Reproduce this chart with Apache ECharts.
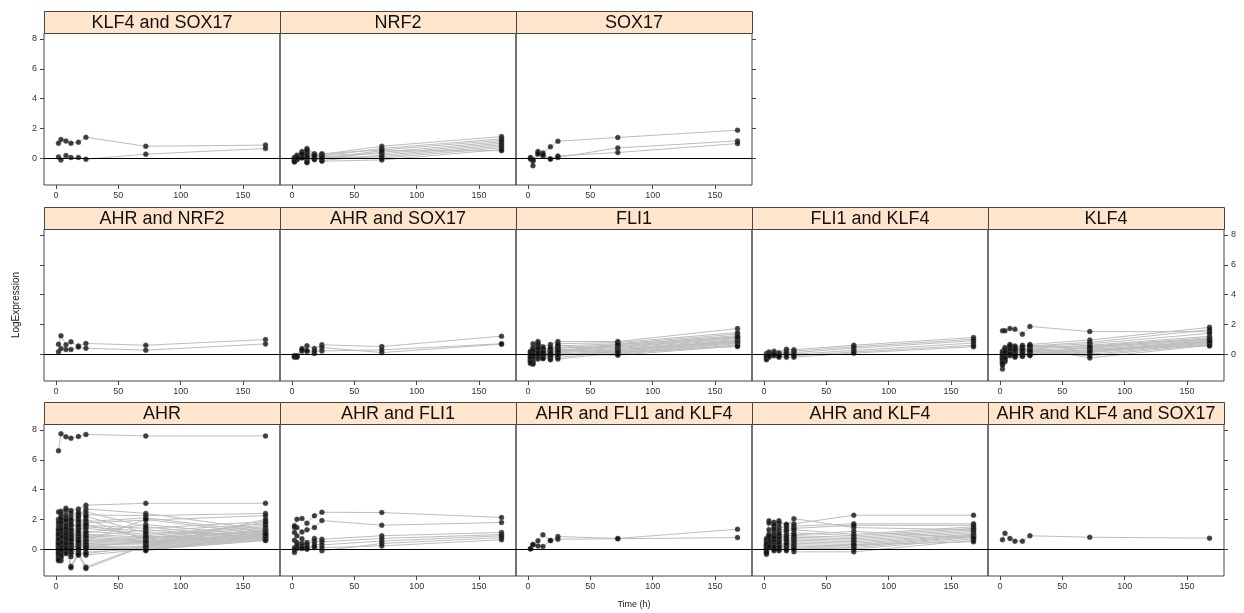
<!DOCTYPE html>
<html>
<head>
<meta charset="utf-8">
<script src="https://cdn.jsdelivr.net/npm/echarts@6/dist/echarts.min.js"></script>
<style>
  html, body { margin: 0; padding: 0; background: #fff; }
  #main { width: 1244px; height: 613px; }
</style>
</head>
<body>
<div id="main"></div>
<script>
// sampling times (h)
const times = [2, 4, 8, 12, 18, 24, 72, 168]
const xTicks = [0, 50, 100, 150]
const yTicks = [0, 2, 4, 6, 8]

// one row per profile, values at each time point
const klf4Sox17 = [
  [1.00, 1.25, 1.15, 1.00, 1.07, 1.40, 0.80, 0.88],
  [0.08, -0.12, 0.18, 0.05, 0.05, -0.07, 0.27, 0.65]
]
const nrf2 = [
  [0.05, 0.20, 0.45, 0.65, 0.30, 0.25, 0.80, 1.45],
  [-0.10, 0.15, 0.30, 0.20, 0.25, 0.15, 0.65, 1.30],
  [-0.20, 0.00, 0.10, 0.45, 0.10, 0.30, 0.55, 1.20],
  [0.00, -0.05, 0.25, -0.10, 0.00, -0.05, 0.40, 1.10],
  [-0.15, 0.10, 0.35, 0.05, 0.20, 0.20, 0.30, 1.00],
  [-0.05, -0.10, 0.05, 0.30, -0.05, -0.15, 0.20, 0.90],
  [-0.25, 0.05, 0.15, -0.25, 0.15, 0.05, 0.10, 0.80],
  [0.02, 0.12, 0.22, 0.10, -0.10, 0.10, 0.00, 0.70],
  [-0.12, -0.08, 0.02, -0.30, 0.05, -0.20, -0.12, 0.58],
  [-0.22, 0.02, 0.30, 0.55, 0.18, 0.00, 0.50, 0.50]
]
const sox17 = [
  [0.00, -0.20, 0.45, 0.35, 0.76, 1.14, 1.39, 1.88],
  [0.05, -0.50, 0.27, 0.15, -0.05, 0.05, 0.69, 1.16],
  [-0.05, -0.10, 0.33, 0.25, -0.05, 0.15, 0.38, 0.98]
]
const ahrNrf2 = [
  [0.67, 1.23, 0.63, 0.83, 0.55, 0.72, 0.60, 0.98],
  [0.16, 0.38, 0.31, 0.31, 0.48, 0.40, 0.27, 0.69]
]
const ahrSox17 = [
  [-0.10, -0.15, 0.38, 0.56, 0.38, 0.63, 0.51, 1.21],
  [-0.20, -0.10, 0.20, 0.18, 0.05, 0.45, 0.11, 0.67],
  [-0.15, -0.20, 0.30, 0.25, 0.20, 0.22, 0.29, 0.70]
]
const fli1 = [
  [0.20, 0.70, 0.85, 0.50, 0.65, 0.85, 0.85, 1.72],
  [0.12, 0.45, 0.75, 0.40, 0.35, 0.70, 0.78, 1.45],
  [-0.05, 0.35, 0.55, 0.30, 0.25, 0.55, 0.70, 1.35],
  [-0.15, 0.30, 0.60, 0.22, 0.15, 0.45, 0.62, 1.25],
  [-0.22, 0.15, 0.40, 0.15, 0.05, 0.40, 0.55, 1.18],
  [-0.35, 0.05, 0.30, 0.10, -0.05, 0.30, 0.50, 1.10],
  [-0.42, -0.05, 0.28, 0.02, -0.12, 0.22, 0.45, 1.05],
  [-0.50, -0.12, 0.18, -0.05, -0.20, 0.15, 0.38, 0.98],
  [-0.62, -0.25, 0.10, -0.12, -0.30, 0.08, 0.32, 0.92],
  [-0.28, -0.35, 0.02, -0.22, -0.38, -0.02, 0.28, 0.88],
  [-0.10, -0.48, -0.05, -0.30, 0.02, -0.10, 0.22, 0.84],
  [0.05, -0.60, -0.18, 0.25, 0.12, -0.22, 0.18, 0.80],
  [-0.38, -0.67, -0.33, 0.08, 0.22, -0.33, 0.10, 0.76],
  [-0.02, 0.18, 0.65, -0.28, 0.32, 0.62, 0.05, 0.70],
  [-0.45, 0.08, 0.22, 0.38, -0.15, 0.35, 0.00, 0.62],
  [0.15, -0.18, 0.12, -0.02, 0.45, 0.02, -0.07, 0.55],
  [-0.55, 0.25, 0.50, 0.18, -0.08, 0.18, 0.66, 1.15],
  [-0.20, -0.02, 0.38, 0.12, 0.08, -0.05, 0.14, 0.51]
]
const fli1Klf4 = [
  [0.05, 0.15, 0.20, 0.10, 0.33, 0.30, 0.60, 1.12],
  [-0.10, 0.05, 0.10, 0.00, 0.20, 0.20, 0.50, 1.00],
  [-0.20, -0.05, 0.05, -0.05, 0.10, 0.10, 0.40, 0.90],
  [-0.30, -0.10, -0.05, -0.10, 0.05, 0.00, 0.25, 0.75],
  [-0.38, -0.20, -0.10, -0.20, -0.05, -0.10, 0.15, 0.60],
  [-0.15, -0.15, 0.00, -0.15, -0.20, -0.20, 0.07, 0.50]
]
const klf4 = [
  [1.57, 1.57, 1.72, 1.68, 1.34, 1.86, 1.52, 1.50],
  [0.20, 0.45, 0.65, 0.55, 0.45, 0.65, 0.95, 1.80],
  [0.10, 0.30, 0.55, 0.40, 0.60, 0.55, 0.80, 1.65],
  [-0.05, 0.20, 0.50, 0.35, 0.30, 0.50, 0.70, 1.40],
  [-0.15, 0.10, 0.40, 0.50, 0.20, 0.40, 0.60, 1.20],
  [-0.25, 0.05, 0.35, 0.25, 0.10, 0.35, 0.55, 1.10],
  [-0.35, -0.05, 0.30, 0.15, 0.25, 0.25, 0.45, 1.05],
  [-0.45, -0.15, 0.20, 0.05, -0.05, 0.15, 0.40, 0.95],
  [-0.55, -0.20, 0.10, -0.05, 0.00, 0.05, 0.30, 0.90],
  [-0.65, -0.30, 0.00, -0.10, -0.10, 0.00, 0.25, 0.85],
  [-1.00, -0.50, -0.10, -0.20, -0.15, -0.05, 0.15, 0.80],
  [-0.75, -0.40, 0.15, 0.10, 0.35, 0.30, 0.10, 0.75],
  [0.05, -0.10, 0.45, 0.30, 0.15, 0.20, 0.00, 0.70],
  [-0.20, 0.35, 0.25, 0.45, 0.40, 0.10, -0.10, 0.65],
  [-0.40, 0.00, 0.05, 0.00, -0.05, 0.45, -0.25, 0.60],
  [-0.10, 0.25, 0.60, 0.20, 0.05, 0.60, 0.35, 0.55],
  [-0.30, -0.25, 0.35, 0.30, 0.50, -0.10, 0.50, 1.00],
  [-0.60, 0.15, 0.55, -0.15, 0.30, 0.25, 0.20, 0.85]
]
const ahr = [
  [6.60, 7.74, 7.54, 7.45, 7.56, 7.70, 7.60, 7.60],
  [1.20, 2.55, 2.75, 2.60, 2.70, 2.95, 3.08, 3.08],
  [2.00, 2.40, 2.10, 2.45, 2.20, 2.70, 2.40, 1.30],
  [1.60, 2.20, 1.80, 2.20, 2.50, 2.30, 2.25, 2.40],
  [0.90, 1.90, 2.60, 1.90, 2.00, 1.85, 2.10, 1.15],
  [1.40, 1.70, 1.50, 2.00, 1.75, 1.75, 1.95, 2.25],
  [0.40, 1.30, 2.00, 1.60, 1.50, 1.60, 1.40, 1.85],
  [1.10, 1.20, 1.00, 1.40, 1.90, 1.50, 1.20, 1.70],
  [0.70, 1.50, 1.30, 1.20, 1.30, 1.40, 1.00, 1.60],
  [-0.20, 1.00, 0.80, 1.00, 1.10, 1.20, 0.90, 1.50],
  [0.20, 0.80, 1.60, 0.80, 0.90, 1.00, 0.80, 1.40],
  [0.50, 0.60, 0.60, 0.60, 0.70, 0.90, 0.70, 1.30],
  [-0.50, 0.40, 0.40, 0.50, 2.20, 0.80, 0.60, 1.25],
  [0.00, 0.20, 1.20, 0.30, 0.50, 0.70, 0.55, 1.20],
  [-0.40, 0.10, 0.20, 0.20, 0.30, 0.60, 0.50, 1.10],
  [0.30, -0.10, 0.90, 0.00, 0.20, 0.50, 0.45, 1.05],
  [-0.78, -0.30, 0.00, -0.20, 0.10, 0.40, 0.40, 1.00],
  [0.80, -0.60, -0.20, 0.40, 0.00, 0.30, 0.35, 0.95],
  [-0.60, -0.78, 0.50, -1.15, -0.20, -1.20, 0.30, 0.90],
  [0.10, 0.00, 0.30, -1.25, -0.40, -1.30, 0.25, 0.85],
  [1.80, 0.50, 0.70, 0.70, 0.60, 0.20, 0.20, 0.80],
  [-0.10, 0.30, 0.10, 0.10, 0.40, 0.10, 0.15, 0.75],
  [0.60, 0.90, 1.40, 0.90, 0.80, 0.00, 0.10, 0.70],
  [-0.30, -0.20, -0.10, -0.30, -0.30, -0.20, 0.05, 0.65],
  [0.95, 1.10, 0.45, 1.10, 1.00, -0.40, 0.00, 0.60],
  [0.25, 0.70, 1.10, 0.25, 1.40, 0.25, -0.05, 0.58],
  [-0.70, -0.50, 0.25, 0.55, -0.10, 0.05, -0.11, 0.95],
  [1.30, 0.55, 0.15, 1.30, 0.25, 1.65, 0.75, 1.15],
  [0.45, 1.35, 0.65, 0.35, 1.60, 1.10, 1.65, 0.90],
  [0.15, -0.40, 0.95, 0.15, 0.15, 0.85, 1.30, 0.75],
  [-0.25, 0.25, -0.30, -0.50, 0.70, 0.55, 2.00, 1.00],
  [0.05, 0.85, 0.55, 0.85, 1.20, 2.50, 1.50, 0.70],
  [0.65, 0.15, 0.35, 1.60, 0.05, 2.00, 0.65, 1.80],
  [1.00, 1.80, 1.95, 0.65, 0.45, 0.35, 0.85, 0.65],
  [-0.05, 0.45, 0.05, 0.05, -0.35, -0.30, 0.20, 2.00],
  [0.35, -0.05, 0.75, -0.05, 0.55, 0.15, 0.50, 0.85],
  [2.50, 2.05, 2.30, 1.75, 2.40, 2.20, 1.10, 1.00]
]
const ahrFli1 = [
  [1.45, 2.00, 2.06, 1.74, 2.24, 2.48, 2.46, 2.13],
  [1.12, 1.45, 1.16, 1.30, 1.45, 1.92, 1.61, 1.79],
  [1.57, 0.90, 0.70, 0.45, 0.72, 0.67, 0.90, 1.12],
  [0.60, 0.45, 0.40, 0.30, 0.54, 0.49, 0.72, 0.98],
  [-0.05, 0.11, 0.25, 0.00, 0.34, 0.29, 0.54, 0.90],
  [-0.22, 0.05, 0.10, 0.05, 0.11, -0.11, 0.38, 0.78],
  [0.10, 0.30, 0.05, 0.15, 0.20, 0.10, 0.22, 0.63]
]
const ahrFli1Klf4 = [
  [0.04, 0.31, 0.56, 0.96, 0.58, 0.85, 0.72, 1.34],
  [0.02, 0.30, 0.22, 0.18, 0.58, 0.67, 0.70, 0.78]
]
const ahrKlf4 = [
  [0.40, 1.90, 1.80, 1.90, 1.60, 2.05, 1.45, 1.30],
  [0.60, 1.75, 1.50, 1.75, 1.68, 1.70, 2.28, 2.28],
  [0.20, 1.30, 1.65, 1.50, 1.45, 1.55, 1.70, 1.70],
  [0.72, 1.00, 1.20, 1.30, 1.30, 1.40, 1.60, 1.60],
  [0.10, 0.80, 1.00, 1.10, 1.20, 1.30, 1.00, 1.50],
  [-0.10, 0.60, 0.90, 0.90, 1.00, 1.10, 0.90, 1.40],
  [0.30, 0.50, 0.70, 0.70, 0.90, 0.90, 0.80, 1.30],
  [-0.20, 0.40, 0.50, 0.60, 0.70, 0.80, 0.70, 1.20],
  [0.00, 0.30, 0.40, 0.50, 0.55, 0.70, 0.60, 1.10],
  [0.50, 0.25, 0.30, 0.30, 0.40, 0.60, 0.50, 1.00],
  [-0.34, 0.20, 0.20, 0.20, 0.30, 0.50, 0.40, 0.95],
  [0.15, 0.15, 0.10, 0.10, 0.20, 0.40, 0.30, 0.90],
  [-0.05, 0.11, 0.00, 0.00, 0.10, 0.30, 0.20, 0.85],
  [0.25, 0.35, -0.11, -0.11, 0.00, 0.20, 0.10, 0.80],
  [0.05, 0.70, 0.60, 0.40, -0.11, 0.10, 0.00, 0.70],
  [-0.15, 0.45, 0.80, 0.80, 0.80, -0.18, -0.18, 0.60],
  [0.35, 0.90, 1.35, 1.00, 0.60, 0.00, 0.30, 0.49],
  [-0.25, 0.20, 0.15, 0.15, 0.35, 0.95, 1.20, 0.75]
]
const ahrKlf4Sox17 = [
  [0.63, 1.07, 0.72, 0.54, 0.54, 0.90, 0.80, 0.74]
]

// lattice layout: row 0 is the top row
const panels = [
  { name: 'KLF4 and SOX17', row: 0, col: 0, data: klf4Sox17, ySide: 'left', yLabel: true },
  { name: 'NRF2', row: 0, col: 1, data: nrf2 },
  { name: 'SOX17', row: 0, col: 2, data: sox17, ySide: 'right', yLabel: false },
  { name: 'AHR and NRF2', row: 1, col: 0, data: ahrNrf2, ySide: 'left', yLabel: false },
  { name: 'AHR and SOX17', row: 1, col: 1, data: ahrSox17 },
  { name: 'FLI1', row: 1, col: 2, data: fli1 },
  { name: 'FLI1 and KLF4', row: 1, col: 3, data: fli1Klf4 },
  { name: 'KLF4', row: 1, col: 4, data: klf4, ySide: 'right', yLabel: true },
  { name: 'AHR', row: 2, col: 0, data: ahr, ySide: 'left', yLabel: true },
  { name: 'AHR and FLI1', row: 2, col: 1, data: ahrFli1 },
  { name: 'AHR and FLI1 and KLF4', row: 2, col: 2, data: ahrFli1Klf4 },
  { name: 'AHR and KLF4', row: 2, col: 3, data: ahrKlf4 },
  { name: 'AHR and KLF4 and SOX17', row: 2, col: 4, data: ahrKlf4Sox17, ySide: 'right', yLabel: false }
]

const panelLeft = 44
const panelW = 236
const panelH = 152
const stripH = 22
const rowTops = [33, 229, 424]

const chart = echarts.init(document.getElementById('main'))

const grid = []
const xAxis = []
const yAxis = []
const series = []
const graphic = []

panels.forEach((p, i) => {
  const left = panelLeft + panelW * p.col
  const top = rowTops[p.row]
  grid.push({
    left: left, top: top, width: panelW, height: panelH,
    show: true, borderColor: '#444', borderWidth: 1, backgroundColor: 'transparent'
  })
  xAxis.push({
    type: 'value', gridIndex: i, min: -9.6, max: 179.6,
    axisLine: { show: false, onZero: false },
    splitLine: { show: false },
    axisTick: { show: true, customValues: xTicks, length: 4, lineStyle: { color: '#444' } },
    axisLabel: { customValues: xTicks, fontSize: 9, color: '#333', margin: 6, fontFamily: 'Liberation Sans' }
  })
  yAxis.push({
    type: 'value', gridIndex: i, min: -1.8, max: 8.4,
    position: p.ySide || 'left',
    axisLine: { show: false, onZero: false },
    splitLine: { show: false },
    axisTick: { show: !!p.ySide, customValues: yTicks, length: 4, lineStyle: { color: '#444' } },
    axisLabel: { show: !!p.yLabel, customValues: yTicks, fontSize: 9, color: '#333', margin: 7, fontFamily: 'Liberation Sans' }
  })

  // grey profile lines
  p.data.forEach((row) => {
    series.push({
      type: 'line', xAxisIndex: i, yAxisIndex: i,
      data: row.map((v, k) => [times[k], v]),
      showSymbol: false, silent: true, z: 2,
      lineStyle: { color: '#bdbdbd', width: 1 }
    })
  })

  // black points on top, with the zero reference line
  const pts = []
  p.data.forEach((row) => {
    row.forEach((v, k) => pts.push([times[k], v]))
  })
  series.push({
    type: 'scatter', xAxisIndex: i, yAxisIndex: i,
    data: pts, symbolSize: 5, z: 4, silent: true,
    itemStyle: { color: '#111', borderColor: '#555', borderWidth: 0.5 },
    markLine: {
      silent: true, symbol: ['none', 'none'], animation: false,
      label: { show: false },
      lineStyle: { color: '#000', type: 'solid', width: 1 },
      data: [{ yAxis: 0 }]
    }
  })

  // strip with panel name
  graphic.push({
    type: 'rect',
    shape: { x: left + 0.5, y: top - stripH + 0.5, width: panelW, height: stripH },
    style: { fill: '#ffe5cc', stroke: '#444', lineWidth: 1 },
    z: 10
  })
  graphic.push({
    type: 'text',
    x: left + panelW / 2, y: top - stripH / 2 + 1,
    style: {
      text: p.name, align: 'center', verticalAlign: 'middle',
      font: '18px "Liberation Sans", Arial, sans-serif', fill: '#111'
    },
    z: 11
  })
})

graphic.push({
  type: 'text', x: 16, y: 305, rotation: Math.PI / 2,
  style: { text: 'LogExpression', align: 'center', verticalAlign: 'middle', font: '10px "Liberation Sans", Arial, sans-serif', fill: '#222' }
})
graphic.push({
  type: 'text', x: 634, y: 605,
  style: { text: 'Time (h)', align: 'center', verticalAlign: 'middle', font: '9px "Liberation Sans", Arial, sans-serif', fill: '#222' }
})

chart.setOption({
  animation: false,
  backgroundColor: '#fff',
  grid: grid,
  xAxis: xAxis,
  yAxis: yAxis,
  series: series,
  graphic: graphic
})
</script>
</body>
</html>
